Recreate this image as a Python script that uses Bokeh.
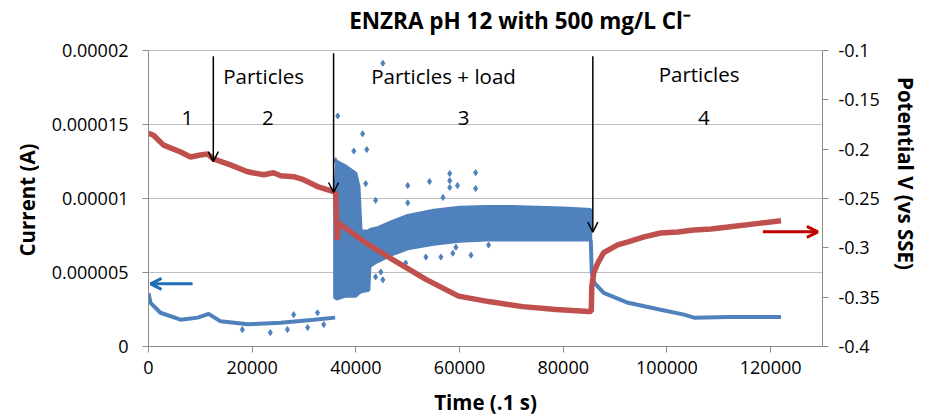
from bokeh.plotting import figure
from bokeh.models import Range1d, LinearAxis, FixedTicker, Arrow, OpenHead, Label, Title
from bokeh.embed import file_html
from bokeh.resources import INLINE

FONT = "Open Sans"
BLUE = "#4F81BD"
RED = "#C0504D"

# ---------------- data ----------------
# Current (A), stage 1-2 (before load)
seg12_t = [0, 400, 2300, 6200, 9500, 11600, 13900, 19100, 25500, 31900, 36000]
seg12_i = [3.6e-6, 2.95e-6, 2.28e-6, 1.81e-6, 1.95e-6, 2.2e-6, 1.7e-6, 1.5e-6, 1.6e-6, 1.8e-6, 1.95e-6]

# Current (A), stage 3 dense scatter band (lower / upper envelope)
band_t = [35900, 36300, 38000, 40000, 40600, 41000, 42500, 42700, 44000, 47000,
          50000, 55000, 60000, 65000, 70000, 75000, 80000, 85300]
band_lo = [3.3e-6, 3.2e-6, 3.4e-6, 3.4e-6, 3.6e-6, 3.7e-6, 3.8e-6, 5.4e-6, 5.7e-6, 6.2e-6,
           6.6e-6, 6.9e-6, 7.1e-6, 7.2e-6, 7.2e-6, 7.2e-6, 7.2e-6, 7.2e-6]
band_hi = [1.02e-5, 1.25e-5, 1.22e-5, 1.17e-5, 1.08e-5, 7.8e-6, 7.8e-6, 7.9e-6, 8.0e-6, 8.45e-6,
           8.85e-6, 9.2e-6, 9.4e-6, 9.45e-6, 9.45e-6, 9.4e-6, 9.35e-6, 9.25e-6]

# Current (A), isolated scattered points
out_t = [36100, 36500, 39600, 41300, 41900, 42100, 43800, 45200, 50000, 50000, 54200,
         56800, 58100, 58100, 58100, 59600, 63100, 63100,
         18100, 23500, 26800, 30700, 33800, 28000, 32600,
         44800, 53500, 56400, 58700, 49600, 43800, 45200, 62200, 59300, 65600]
out_i = [1.255e-5, 1.557e-5, 1.32e-5, 1.436e-5, 1.1e-5, 1.33e-5, 9.87e-6, 1.913e-5, 1.087e-5, 9.7e-6, 1.114e-5,
         1.007e-5, 1.168e-5, 1.12e-5, 1.074e-5, 1.087e-5, 1.174e-5, 1.067e-5,
         1.14e-6, 0.94e-6, 1.14e-6, 1.28e-6, 1.48e-6, 2.15e-6, 2.28e-6,
         5.03e-6, 6.04e-6, 6.04e-6, 6.3e-6, 5.64e-6, 4.7e-6, 4.5e-6, 6.17e-6, 6.7e-6, 6.85e-6]

# Current (A), stage 4
seg4_t = [85300, 85500, 86000, 87800, 92500, 98800, 103300, 105200, 111800, 122000]
seg4_i = [7.2e-6, 5.0e-6, 4.3e-6, 3.62e-6, 2.95e-6, 2.48e-6, 2.15e-6, 1.95e-6, 2.0e-6, 2.0e-6]

# Potential V (vs SSE)
pot_t = [0, 970, 2900, 6200, 8100, 10000, 11400, 12500, 15800, 19100, 22200, 24100, 25500,
         28000, 29900, 32600, 35700, 36100, 36400, 36700, 41900, 47100, 53500, 59800, 65600,
         72200, 78600, 84900, 85400, 85500, 85900, 86700, 87800, 90500, 92500, 95600, 98800,
         102100, 105200, 108500, 111800, 118100, 122000]
pot_v = [-0.184, -0.186, -0.196, -0.203, -0.208, -0.206, -0.205, -0.210, -0.216, -0.223, -0.226,
         -0.224, -0.227, -0.228, -0.231, -0.238, -0.243, -0.245, -0.292, -0.275, -0.295, -0.312,
         -0.332, -0.349, -0.3545, -0.3596, -0.3626, -0.3646, -0.3646, -0.339, -0.325, -0.315,
         -0.305, -0.297, -0.294, -0.289, -0.285, -0.284, -0.282, -0.281, -0.279, -0.275, -0.2727]

# axes ticks
x_ticks = [0, 20000, 40000, 60000, 80000, 100000, 120000]
x_tick_labels = ["0", "20000", "40000", "60000", "80000", "100000", "120000"]
cur_ticks = [0.0, 5e-6, 1e-5, 1.5e-5, 2e-5]
cur_tick_labels = ["0", "0.000005", "0.00001", "0.000015", "0.00002"]
pot_ticks = [-0.4, -0.35, -0.3, -0.25, -0.2, -0.15, -0.1]
pot_tick_labels = ["-0.4", "-0.35", "-0.3", "-0.25", "-0.2", "-0.15", "-0.1"]

# annotations
TITLE = "ENZRA pH 12 with 500 mg/L Cl\u207b"
stage_texts = ["Particles", "1", "2", "Particles + load", "3", "Particles", "4"]
stage_text_t = [22200, 7500, 23000, 56900, 60800, 106200, 107100]
stage_text_i = [1.826e-5, 1.544e-5, 1.544e-5, 1.826e-5, 1.544e-5, 1.84e-5, 1.544e-5]
event_t = [12500, 35700, 85700]
event_top = [1.96e-5, 1.98e-5, 1.96e-5]
event_end = [1.248e-5, 1.04e-5, 7.72e-6]

# ---------------- figure ----------------
# the plotting frame reaches the top of the canvas so that the title can sit
# inside it; the axes are bounded to the real value ranges
CUR_MIN, CUR_MAX = 0.0, 2e-5
POT_MIN, POT_MAX = -0.4, -0.1
TOP_EXT = 347.0 / 297.0   # frame height / value-area height
p = figure(width=930, height=418, title=None,
           x_range=Range1d(0, 130000),
           y_range=Range1d(CUR_MIN, CUR_MIN + (CUR_MAX - CUR_MIN) * TOP_EXT),
           output_backend="svg", toolbar_location=None,
           min_border_left=148, min_border_right=108, min_border_top=0, min_border_bottom=71)
p.extra_y_ranges = {"pot": Range1d(POT_MIN, POT_MIN + (POT_MAX - POT_MIN) * TOP_EXT)}
p.outline_line_color = None
p.background_fill_color = "white"

p.add_layout(Label(x=38700, y=2.202e-5, text=TITLE, text_align="left", text_baseline="middle",
                   text_font=FONT, text_font_size="22.5px", text_font_style="bold",
                   text_color="black"))

right = LinearAxis(y_range_name="pot", bounds=(POT_MIN, POT_MAX))
p.add_layout(right, "right")
p.yaxis[0].bounds = (CUR_MIN, CUR_MAX)

p.xaxis.ticker = FixedTicker(ticks=x_ticks)
p.xaxis.major_label_overrides = dict(zip(x_ticks, x_tick_labels))
p.yaxis[0].ticker = FixedTicker(ticks=cur_ticks)
p.yaxis[0].major_label_overrides = dict(zip(cur_ticks, cur_tick_labels))
right.ticker = FixedTicker(ticks=pot_ticks)
right.major_label_overrides = dict(zip(pot_ticks, pot_tick_labels))

p.xaxis.axis_label = "Time (.1 s)"
right.axis_label = "Potential V (vs SSE)"

# left axis title: placed as a side title so it can sit lower, as in the original
p.add_layout(Title(text="Current (A)", align="left", offset=90, standoff=16,
                   text_font=FONT, text_font_size="20.5px", text_font_style="bold",
                   text_color="black"), "left")

for ax in [p.xaxis[0], p.yaxis[0], right]:
    ax.axis_line_color = "#8C8C8C"
    ax.major_tick_line_color = "#8C8C8C"
    ax.major_tick_out = 6
    ax.major_tick_in = 0
    ax.minor_tick_line_color = None
    ax.major_label_text_font = FONT
    ax.major_label_text_font_size = "18px"
    ax.major_label_text_color = "black"
    ax.axis_label_text_font = FONT
    ax.axis_label_text_font_size = "20.5px"
    ax.axis_label_text_font_style = "bold"
    ax.axis_label_text_color = "black"
p.yaxis[0].major_label_standoff = 14
right.major_label_standoff = 10
p.xaxis.major_label_standoff = 8
right.axis_label_standoff = 9
p.xaxis.axis_label_standoff = 11

p.xgrid.grid_line_color = None
p.ygrid.ticker = FixedTicker(ticks=cur_ticks)
p.ygrid.grid_line_color = "#BEBEBE"

# ---------------- marks ----------------
p.patch(x=band_t + band_t[::-1], y=band_lo + band_hi[::-1], fill_color=BLUE,
        line_color=BLUE, line_width=3)
p.scatter(out_t, out_i, marker="diamond", size=6, color=BLUE)
p.line(seg12_t, seg12_i, color=BLUE, line_width=4)
p.line(seg4_t, seg4_i, color=BLUE, line_width=4)
p.line(pot_t, pot_v, y_range_name="pot", color=RED, line_width=5.5)

for txt, tx, ty in zip(stage_texts, stage_text_t, stage_text_i):
    p.add_layout(Label(x=tx, y=ty, text=txt, text_align="center", text_baseline="middle",
                       text_font=FONT, text_font_size="20.5px", text_color="black"))

for tx, top, end in zip(event_t, event_top, event_end):
    p.add_layout(Arrow(end=OpenHead(size=10, line_color="black", line_width=1.5),
                       x_start=tx, y_start=top, x_end=tx, y_end=end,
                       line_color="black", line_width=1.5))

# side arrows pointing to the axes
p.add_layout(Arrow(end=OpenHead(size=11, line_color="#1F6FB8", line_width=3),
                   x_start=8500, y_start=4.23e-6, x_end=400, y_end=4.23e-6,
                   line_color="#1F6FB8", line_width=3))
p.add_layout(Arrow(end=OpenHead(size=11, line_color="#C00000", line_width=3),
                   x_start=118500, y_start=-0.2838, x_end=129100, y_end=-0.2838,
                   y_range_name="pot", line_color="#C00000", line_width=3))

open("out.html", "w").write(file_html(p, INLINE))
